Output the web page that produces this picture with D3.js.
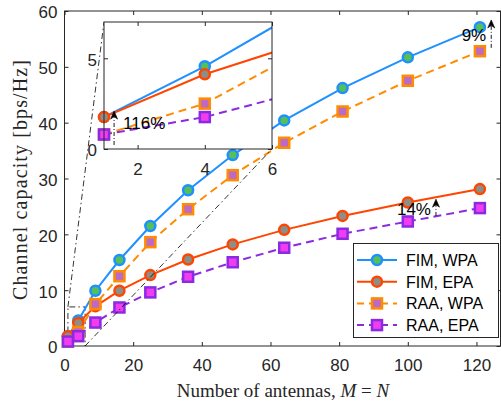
<!DOCTYPE html>
<html>
<head>
<meta charset="utf-8">
<script src="https://cdn.jsdelivr.net/npm/d3@7"></script>
<style>
  body { margin: 0; background: #fff; }
  svg { display: block; }
</style>
</head>
<body>
<div id="chart"></div>
<script>
// data
const antennas = [1, 4, 9, 16, 25, 36, 49, 64, 81, 100, 121];
const fimWpa = [1.76, 4.56, 9.9, 15.4, 21.5, 27.9, 34.2, 40.4, 46.2, 51.7, 57.1];
const fimEpa = [1.76, 4.12, 7.1, 9.9, 12.7, 15.5, 18.2, 20.8, 23.3, 25.7, 28.1];
const raaWpa = [0.8, 2.5, 7.5, 12.5, 18.6, 24.5, 30.6, 36.4, 42.0, 47.5, 52.8];
const raaEpa = [0.8, 1.76, 4.2, 6.9, 9.6, 12.4, 15.0, 17.6, 20.1, 22.3, 24.7];
const seriesNames = ["FIM, WPA", "FIM, EPA", "RAA, WPA", "RAA, EPA"];
const xTicks = [0, 20, 40, 60, 80, 100, 120];
const yTicks = [0, 10, 20, 30, 40, 50, 60];
const insetXTicks = [2, 4, 6];
const insetYTicks = [0, 5];
// gain annotations: [x, from, to, label]
const gains = [[124.3, 53.4, 58.4, "9%"], [108.2, 23.3, 26.3, "14%"]];
const insetGain = [1.3, 0.22, 2.09, "116%"];

const width = 501, height = 407;
const axisColor = "#262626";
const sans = "'Liberation Sans', Arial, sans-serif";
const serif = "'Liberation Serif', 'Times New Roman', serif";

const styles = [
  {ys: fimWpa, line: "#1E90FF", face: "#55C057", shape: "circle", dash: null},
  {ys: fimEpa, line: "#FF4500", face: "#8C8F87", shape: "circle", dash: null},
  {ys: raaWpa, line: "#FF8C00", face: "#BD6AC6", shape: "square", dash: "8,5"},
  {ys: raaEpa, line: "#8A2BE2", face: "#F23CF0", shape: "square", dash: "8,5"}
];

const svg = d3.select("#chart").append("svg")
  .attr("width", width).attr("height", height);

const x = d3.scaleLinear().domain([0, 127]).range([64.5, 500.5]);
const y = d3.scaleLinear().domain([0, 60]).range([346, 11]);

svg.append("defs").append("clipPath").attr("id", "mainClip")
  .append("rect").attr("x", 64.5).attr("y", 11).attr("width", 436).attr("height", 335);

function drawMarker(g, cx, cy, s) {
  if (s.shape === "circle") {
    g.append("circle").attr("cx", cx).attr("cy", cy).attr("r", 5)
      .attr("fill", s.face).attr("stroke", s.line).attr("stroke-width", 2.5);
  } else {
    g.append("rect").attr("x", cx - 5).attr("y", cy - 5).attr("width", 10).attr("height", 10)
      .attr("fill", s.face).attr("stroke", s.line).attr("stroke-width", 2.5);
  }
}

function drawSeries(g, xs, s, xs_, ys_, clipId, xDomain) {
  const line = d3.line().x((d, i) => xs_(xs[i])).y(d => ys_(d));
  g.append("path").datum(s.ys)
    .attr("d", line)
    .attr("fill", "none")
    .attr("stroke", s.line)
    .attr("stroke-width", 2)
    .attr("stroke-dasharray", s.dash)
    .attr("clip-path", "url(#" + clipId + ")");
  const mg = g.append("g");
  s.ys.forEach((v, i) => {
    if (xs[i] >= xDomain[0] && xs[i] <= xDomain[1] && v <= ys_.domain()[1]) {
      drawMarker(mg, xs_(xs[i]), ys_(v), s);
    }
  });
}

function arrow(g, ax, y1, y2) {
  g.append("line").attr("x1", ax).attr("x2", ax).attr("y1", y1).attr("y2", y2 + 5)
    .attr("stroke", "#000").attr("stroke-width", 0.9).attr("stroke-dasharray", "4,2,1,2");
  g.append("path")
    .attr("d", `M${ax},${y2} L${ax - 3.5},${y2 + 8} L${ax},${y2 + 5.5} L${ax + 3.5},${y2 + 8} Z`)
    .attr("fill", "#000").attr("stroke", "#000").attr("stroke-width", 0.6);
}

function styleTicks(g) {
  g.selectAll(".domain").remove();
  g.selectAll(".tick line").attr("stroke", axisColor);
  g.selectAll(".tick text").attr("font-family", sans).attr("font-size", 17).attr("fill", axisColor);
}

// main axes ticks and labels
svg.append("g").attr("transform", "translate(0,346)")
  .call(d3.axisBottom(x).tickValues(xTicks).tickSizeInner(-4).tickSizeOuter(0).tickPadding(13))
  .call(styleTicks);
svg.append("g").attr("transform", "translate(64.5,1.5)")
  .call(d3.axisLeft(y).tickValues(yTicks).tickSizeInner(-4).tickSizeOuter(0).tickPadding(7))
  .call(styleTicks)
  .selectAll(".tick line").attr("transform", "translate(0,-1.5)");
svg.append("g").attr("transform", "translate(0,11)")
  .call(d3.axisTop(x).tickValues(xTicks).tickSizeInner(-4).tickSizeOuter(0).tickFormat(""))
  .call(styleTicks);
svg.append("g").attr("transform", "translate(500.5,0)")
  .call(d3.axisRight(y).tickValues(yTicks).tickSizeInner(-4).tickSizeOuter(0).tickFormat(""))
  .call(styleTicks);

svg.append("rect").attr("x", 64.5).attr("y", 11).attr("width", 436).attr("height", 335)
  .attr("fill", "none").attr("stroke", axisColor).attr("stroke-width", 1);

// zoom rectangle and connectors
const zx0 = x(1), zx1 = x(6), zy0 = y(0), zy1 = y(7);
const dd = "6,3,1.5,3";
svg.append("path")
  .attr("d", `M${zx0},${zy0} L${zx0},${zy1} L${zx1},${zy1} L${zx1},${zy0}`)
  .attr("fill", "none").attr("stroke", "#000").attr("stroke-width", 0.8).attr("stroke-dasharray", dd);

// series on main axes
const series = svg.append("g");
styles.forEach(s => drawSeries(series, antennas, s, x, y, "mainClip", [0, 127]));

// inset
const ix = d3.scaleLinear().domain([1, 6]).range([104, 272]);
const iy = d3.scaleLinear().domain([0, 7]).range([149, 22]);

svg.append("line").attr("x1", zx0).attr("y1", zy1).attr("x2", ix(1)).attr("y2", iy(7))
  .attr("stroke", "#000").attr("stroke-width", 0.8).attr("stroke-dasharray", dd);
svg.append("line").attr("x1", zx1).attr("y1", zy0).attr("x2", ix(6)).attr("y2", iy(0))
  .attr("stroke", "#000").attr("stroke-width", 0.8).attr("stroke-dasharray", dd);

svg.select("defs").append("clipPath").attr("id", "insetClip")
  .append("rect").attr("x", 104).attr("y", 22).attr("width", 168).attr("height", 127);

const inset = svg.append("g");
inset.append("rect").attr("x", 104).attr("y", 22).attr("width", 168).attr("height", 127)
  .attr("fill", "#fff");
inset.append("g").attr("transform", "translate(0,149)")
  .call(d3.axisBottom(ix).tickValues(insetXTicks).tickFormat(d3.format("d"))
    .tickSizeInner(-4).tickSizeOuter(0).tickPadding(14))
  .call(styleTicks);
inset.append("g").attr("transform", "translate(104,1.5)")
  .call(d3.axisLeft(iy).tickValues(insetYTicks).tickFormat(d3.format("d"))
    .tickSizeInner(-4).tickSizeOuter(0).tickPadding(7))
  .call(styleTicks)
  .selectAll(".tick line").attr("transform", "translate(0,-1.5)");
inset.append("g").attr("transform", "translate(0,22)")
  .call(d3.axisTop(ix).tickValues(insetXTicks).tickSizeInner(-4).tickSizeOuter(0).tickFormat(""))
  .call(styleTicks);
inset.append("g").attr("transform", "translate(272,0)")
  .call(d3.axisRight(iy).tickValues(insetYTicks).tickSizeInner(-4).tickSizeOuter(0).tickFormat(""))
  .call(styleTicks);
styles.forEach(s => drawSeries(inset, antennas, s, ix, iy, "insetClip", [1, 6]));
inset.append("rect").attr("x", 104).attr("y", 22).attr("width", 168).attr("height", 127)
  .attr("fill", "none").attr("stroke", axisColor).attr("stroke-width", 1);

// gain annotations
gains.forEach(d => {
  arrow(svg, x(d[0]), y(d[1]), y(d[2]));
  svg.append("text").attr("x", x(d[0]) - 5).attr("y", (y(d[1]) + y(d[2])) / 2 + 7)
    .attr("text-anchor", "end").attr("font-family", sans).attr("font-size", 17)
    .attr("fill", "#000").text(d[3]);
});
arrow(svg, ix(insetGain[0]), iy(insetGain[1]), iy(insetGain[2]));
svg.append("text").attr("x", ix(insetGain[0]) + 9).attr("y", 128.5)
  .attr("font-family", sans).attr("font-size", 17).attr("fill", "#000").text(insetGain[3]);

// legend
const lg = svg.append("g");
lg.append("rect").attr("x", 353.5).attr("y", 243.5).attr("width", 145).attr("height", 94)
  .attr("fill", "#fff").attr("stroke", axisColor).attr("stroke-width", 1);
styles.forEach((s, i) => {
  const ly = 260 + i * 21.7;
  lg.append("line").attr("x1", 357).attr("x2", 397).attr("y1", ly).attr("y2", ly)
    .attr("stroke", s.line).attr("stroke-width", 2).attr("stroke-dasharray", s.dash ? "7,5" : null);
  drawMarker(lg, 377, ly, s);
  lg.append("text").attr("x", 406).attr("y", ly + 6)
    .attr("font-family", sans).attr("font-size", 16).attr("fill", "#000").text(seriesNames[i]);
});

// axis titles
const xl = svg.append("text").attr("x", 283).attr("y", 397).attr("text-anchor", "middle")
  .attr("font-family", serif).attr("font-size", 19).attr("fill", axisColor);
xl.append("tspan").text("Number of antennas, ");
xl.append("tspan").attr("font-style", "italic").text("M");
xl.append("tspan").text(" = ");
xl.append("tspan").attr("font-style", "italic").text("N");

svg.append("text").attr("transform", "translate(27,180) rotate(-90)")
  .attr("text-anchor", "middle").attr("font-family", serif).attr("font-size", 20)
  .attr("textLength", 240).attr("lengthAdjust", "spacing")
  .attr("fill", axisColor).text("Channel capacity [bps/Hz]");
</script>
</body>
</html>
